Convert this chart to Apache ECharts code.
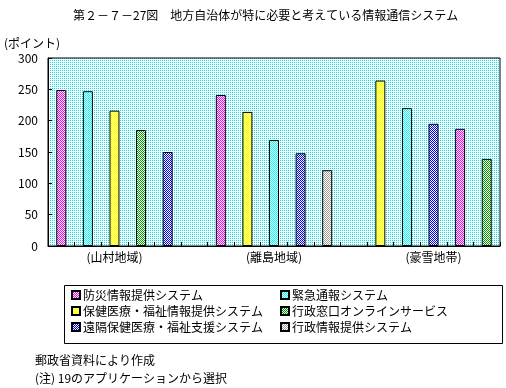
<!DOCTYPE html>
<html><head><meta charset="utf-8">
<script src="https://cdn.jsdelivr.net/npm/echarts@6/dist/echarts.min.js"></script>
<style>html,body{margin:0;padding:0;background:#fff}#c{width:506px;height:388px}</style>
</head><body><div id="c"></div>
<script>
const FONT = '"Noto Sans CJK JP", "Noto Sans CJK SC", sans-serif';
const titleText = '第２－７－27図　地方自治体が特に必要と考えている情報通信システム';
const unitText = '(ポイント)';
const sourceText = '郵政省資料により作成';
const noteText = '(注) 19のアプリケーションから選択';

const regions = ['(山村地域)', '(離島地域)', '(豪雪地帯)'];
const systems = [
  '防災情報提供システム',
  '緊急通報システム',
  '保健医療・福祉情報提供システム',
  '行政窓口オンラインサービス',
  '遠隔保健医療・福祉支援システム',
  '行政情報提供システム'
];
// order of systems (index into `systems`) and values, per region, left to right
const sansonOrder = [0, 1, 2, 3, 4];
const sansonValues = [249, 247, 216, 185, 150];
const ritoOrder = [0, 2, 1, 4, 5];
const ritoValues = [241, 214, 169, 148, 121];
const gosetsuOrder = [2, 1, 4, 0, 3];
const gosetsuValues = [264, 220, 195, 187, 139];

const yMin = 0, yMax = 300, yStep = 50;

function makePattern(size, fg, bg, cells) {
  const cv = document.createElement('canvas');
  cv.width = size; cv.height = size;
  const ctx = cv.getContext('2d');
  ctx.fillStyle = bg; ctx.fillRect(0, 0, size, size);
  ctx.fillStyle = fg;
  cells.forEach(([x, y]) => ctx.fillRect(x, y, 1, 1));
  return { image: cv, repeat: 'repeat' };
}
const checker = (fg) => makePattern(2, fg, '#ffffff', [[0, 0], [1, 1]]);
const seriesColors = [
  checker('#ff00ff'),
  checker('#00ffff'),
  makePattern(2, '#ffff00', '#ffff99', [[0, 0], [1, 1]]),
  checker('#00a000'),
  checker('#0000ff'),
  checker('#a09c90')
];
const bgPattern = makePattern(2, '#00e5f0', '#ffffff', [[0, 0]]);

// build 17 slots: 5 bars per region + 1 gap between regions
const groups = [
  { order: sansonOrder, values: sansonValues },
  { order: ritoOrder, values: ritoValues },
  { order: gosetsuOrder, values: gosetsuValues }
];
const slotNames = [];
const slotLabels = [];
const seriesData = systems.map(() => []);
groups.forEach((g, gi) => {
  const n = g.order.length;
  for (let k = 0; k < n; k++) {
    const idx = slotNames.length;
    slotNames.push('s' + idx);
    slotLabels.push(k === Math.floor(n / 2) ? regions[gi] : '');
    systems.forEach((_, s) => seriesData[s].push(g.order[k] === s ? g.values[k] : null));
  }
  if (gi < groups.length - 1) {
    const idx = slotNames.length;
    slotNames.push('s' + idx);
    slotLabels.push('');
    systems.forEach((_, s) => seriesData[s].push(null));
  }
});

const chart = echarts.init(document.getElementById('c'), null, { renderer: 'canvas' });
const txt = { color: '#000', fontSize: 12, fontFamily: FONT };
chart.setOption({
  animation: false,
  backgroundColor: '#fff',
  textStyle: { fontFamily: FONT },
  grid: {
    left: 48, right: 6, top: 58, bottom: 142,
    show: true, backgroundColor: bgPattern, borderColor: '#000', borderWidth: 1
  },
  xAxis: {
    type: 'category',
    data: slotNames,
    axisLine: { show: true, lineStyle: { color: '#000', width: 1 } },
    axisTick: { show: true, inside: true, length: 4, interval: 0, lineStyle: { color: '#000' } },
    axisLabel: { interval: 0, margin: 5, formatter: (v, i) => slotLabels[i], ...txt }
  },
  yAxis: {
    type: 'value', min: yMin, max: yMax, interval: yStep,
    axisLine: { show: true, lineStyle: { color: '#000', width: 1 } },
    axisTick: { show: true, inside: true, length: 4, lineStyle: { color: '#000' } },
    splitLine: { show: false },
    axisLabel: { margin: 10, ...txt }
  },
  legend: [
    {
      orient: 'vertical', left: 66, top: 284, selectedMode: false,
      data: [systems[0], systems[2], systems[4]],
      icon: 'rect', itemWidth: 8, itemHeight: 8, itemGap: 4,
      textStyle: { ...txt, padding: [0, 0, 0, -2] }
    },
    {
      orient: 'vertical', left: 275, top: 284, selectedMode: false,
      data: [systems[1], systems[3], systems[5]],
      icon: 'rect', itemWidth: 8, itemHeight: 8, itemGap: 4,
      textStyle: { ...txt, padding: [0, 0, 0, -2] }
    }
  ],
  series: systems.map((name, s) => ({
    type: 'bar', name, data: seriesData[s],
    barWidth: 10, barGap: '-100%',
    itemStyle: { color: seriesColors[s], borderColor: '#000', borderWidth: 1 }
  })),
  graphic: [
    { type: 'text', left: 73, top: 9, style: { text: titleText, fill: '#000', font: '12px ' + FONT } },
    { type: 'text', left: 4, top: 37, style: { text: unitText, fill: '#000', font: '12px ' + FONT } },
    { type: 'rect', left: 62, top: 283, shape: { width: 438, height: 58 },
      style: { fill: 'none', stroke: '#000', lineWidth: 1 } },
    { type: 'text', left: 35, top: 354, style: { text: sourceText, fill: '#000', font: '12px ' + FONT } },
    { type: 'text', left: 35, top: 372, style: { text: noteText, fill: '#000', font: '12px ' + FONT } }
  ]
});
</script>
</body></html>
